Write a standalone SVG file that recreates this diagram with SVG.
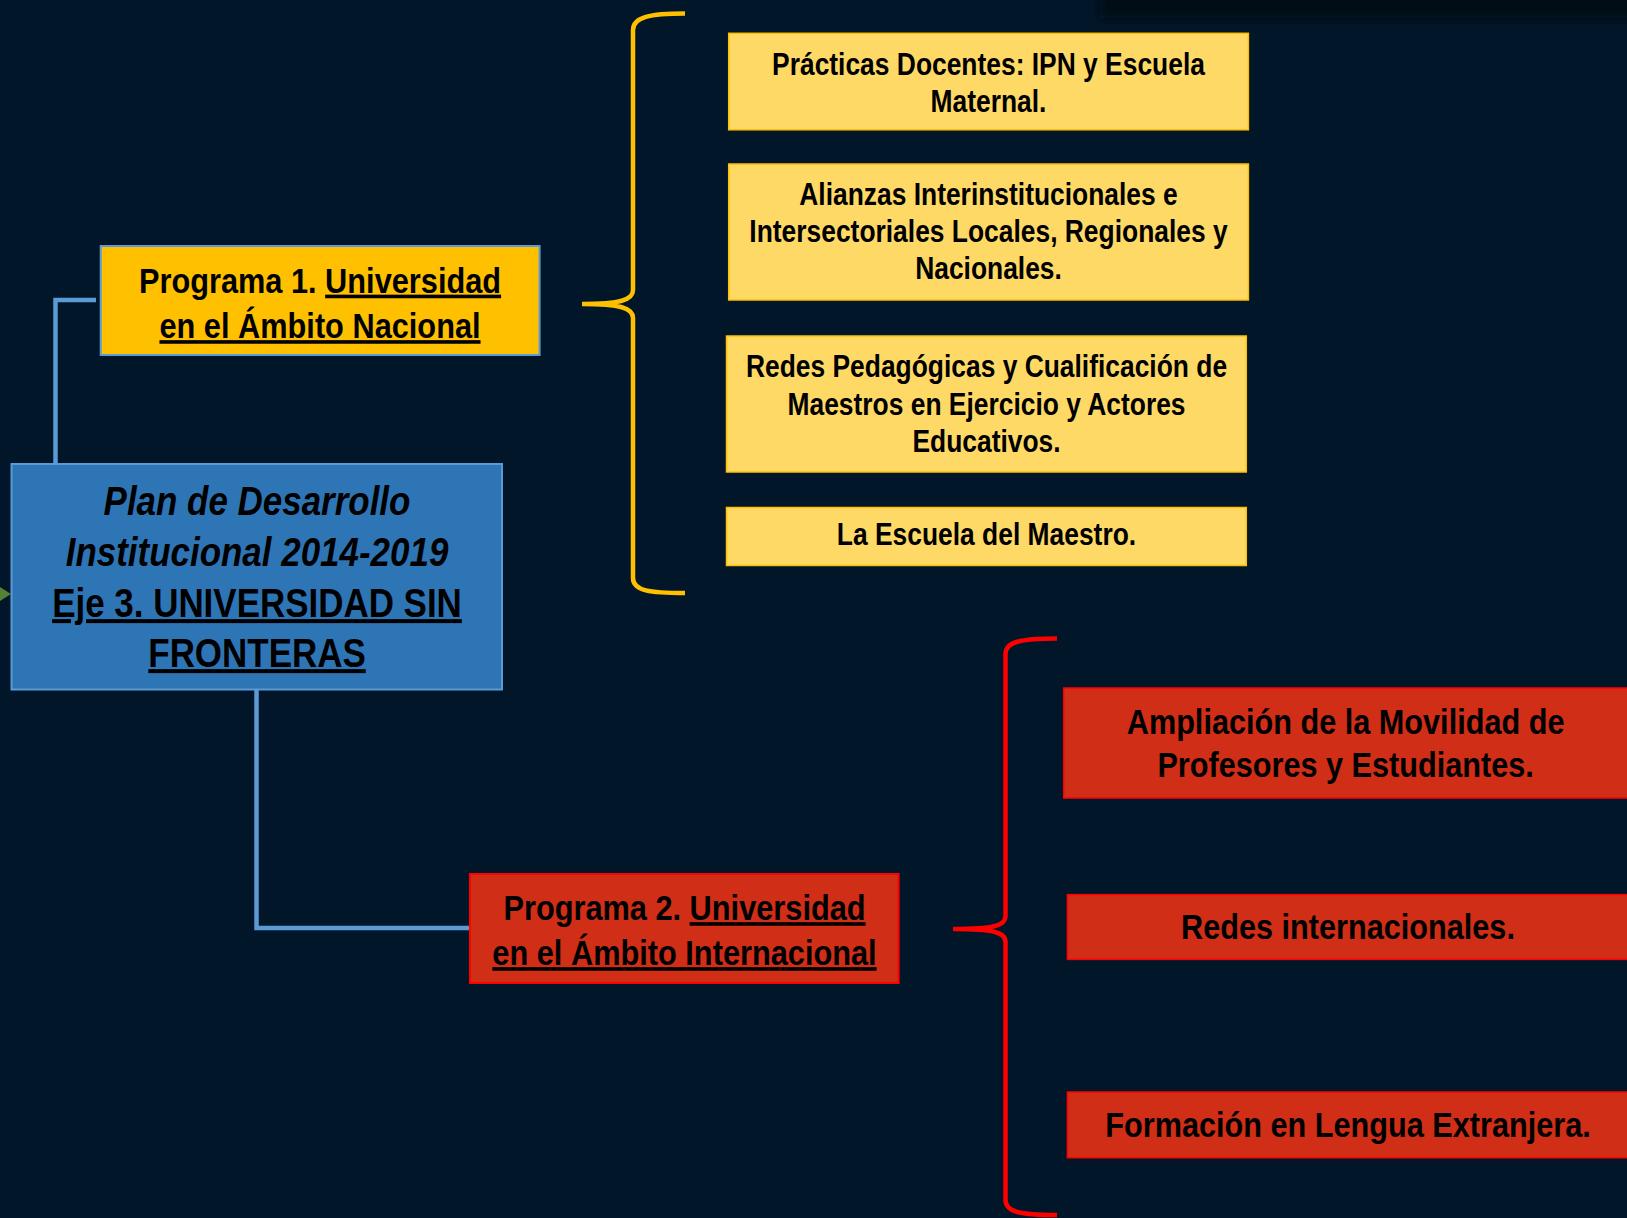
<svg xmlns="http://www.w3.org/2000/svg" width="1627" height="1218" viewBox="0 0 1627 1218">
<defs>
<style>
.t{font-family:"Liberation Sans","Arial",sans-serif;font-weight:bold;fill:#000;text-anchor:middle}
.u{text-decoration:underline}
.yb{fill:#FFD966;stroke:#FFC000;stroke-width:1.5}
.rb{fill:#D02E16;stroke:#FF0000;stroke-width:1.5}
.conn{fill:none;stroke:#5B9BD5;stroke-width:4.5}
</style>
<filter id="blur" x="-10%" y="-50%" width="120%" height="200%"><feGaussianBlur stdDeviation="4"/></filter>
</defs>
<rect x="0" y="0" width="1627" height="1218" fill="#011628"/>
<rect x="1100" y="-10" width="560" height="28" fill="#000c17" filter="url(#blur)"/>

<g id="connectors">
<polyline class="conn" points="55.5,464 55.5,300 96,300"/>
<polyline class="conn" points="256.5,690 256.5,928 470,928"/>
<polygon points="0,587 11,594 0,601" fill="#548235"/>
<path d="M685,13.5 C650,13.5 633,17 633,30 L633,290 C633,300 620,304 582,304 C620,304 633,308 633,318 L633,578 C633,591 650,593 685,593" fill="none" stroke="#FFC000" stroke-width="4.5"/>
<path d="M1057,638.5 C1020,638.5 1005.5,642 1005.5,654 L1005.5,916 C1005.5,926 993,929 953,929 C993,929 1005.5,932 1005.5,942 L1005.5,1200 C1005.5,1212 1020,1215 1057,1215" fill="none" stroke="#FF0000" stroke-width="4.5"/>
</g>

<g id="center">
<rect x="11.5" y="464" width="490.5" height="225.5" fill="#2E75B6" stroke="#5B9BD5" stroke-width="2"/>
<text class="t" transform="translate(257,515) scale(0.874,1)" font-size="40" font-style="italic">Plan de Desarrollo</text>
<text class="t" transform="translate(257,566) scale(0.874,1)" font-size="40" font-style="italic">Institucional 2014-2019</text>
<text class="t u" transform="translate(257,617) scale(0.874,1)" font-size="40">Eje 3. UNIVERSIDAD SIN</text>
<text class="t u" transform="translate(257,667) scale(0.874,1)" font-size="40">FRONTERAS</text>
</g>

<g id="programa1">
<rect x="100.7" y="246" width="438.9" height="109" fill="#FFC000" stroke="#5B9BD5" stroke-width="2"/>
<text class="t" transform="translate(320,292.5) scale(0.854,1)" font-size="36">Programa 1. <tspan class="u">Universidad</tspan></text>
<text class="t u" transform="translate(320,338) scale(0.854,1)" font-size="36">en el Ámbito Nacional</text>
</g>

<g id="programa2">
<rect x="470" y="874" width="428.6" height="109" fill="#D02E16" stroke="#FF0000" stroke-width="2"/>
<text class="t" transform="translate(684.5,920) scale(0.854,1)" font-size="36">Programa 2. <tspan class="u">Universidad</tspan></text>
<text class="t u" transform="translate(684.5,965) scale(0.854,1)" font-size="36">en el Ámbito Internacional</text>
</g>

<g id="p1a">
<rect class="yb" x="728.7" y="33.3" width="519.7" height="96.5"/>
<text class="t" transform="translate(988.5,74.6) scale(0.852,1)" font-size="31">Prácticas Docentes: IPN y Escuela</text>
<text class="t" transform="translate(988.5,111.7) scale(0.852,1)" font-size="31">Maternal.</text>
</g>
<g id="p1b">
<rect class="yb" x="728.7" y="164" width="519.7" height="136"/>
<text class="t" transform="translate(988.5,205) scale(0.852,1)" font-size="31">Alianzas Interinstitucionales e</text>
<text class="t" transform="translate(988.5,242) scale(0.852,1)" font-size="31">Intersectoriales Locales, Regionales y</text>
<text class="t" transform="translate(988.5,279) scale(0.852,1)" font-size="31">Nacionales.</text>
</g>
<g id="p1c">
<rect class="yb" x="726.5" y="336" width="519.8" height="136"/>
<text class="t" transform="translate(986.5,377) scale(0.852,1)" font-size="31">Redes Pedagógicas y Cualificación de</text>
<text class="t" transform="translate(986.5,415) scale(0.852,1)" font-size="31">Maestros en Ejercicio y Actores</text>
<text class="t" transform="translate(986.5,451.6) scale(0.852,1)" font-size="31">Educativos.</text>
</g>
<g id="p1d">
<rect class="yb" x="726.5" y="507.5" width="519.8" height="58"/>
<text class="t" transform="translate(986.5,545.3) scale(0.852,1)" font-size="31">La Escuela del Maestro.</text>
</g>

<g id="p2a">
<rect class="rb" x="1063.7" y="688" width="570" height="110"/>
<text class="t" transform="translate(1345.6,734.4) scale(0.876,1)" font-size="35">Ampliación de la Movilidad de</text>
<text class="t" transform="translate(1345.6,777) scale(0.876,1)" font-size="35">Profesores y Estudiantes.</text>
</g>
<g id="p2b">
<rect class="rb" x="1067.4" y="894.6" width="570" height="64.8"/>
<text class="t" transform="translate(1348,938.5) scale(0.876,1)" font-size="35">Redes internacionales.</text>
</g>
<g id="p2c">
<rect class="rb" x="1067.4" y="1092" width="570" height="65.8"/>
<text class="t" transform="translate(1348,1136.8) scale(0.876,1)" font-size="35">Formación en Lengua Extranjera.</text>
</g>
</svg>
